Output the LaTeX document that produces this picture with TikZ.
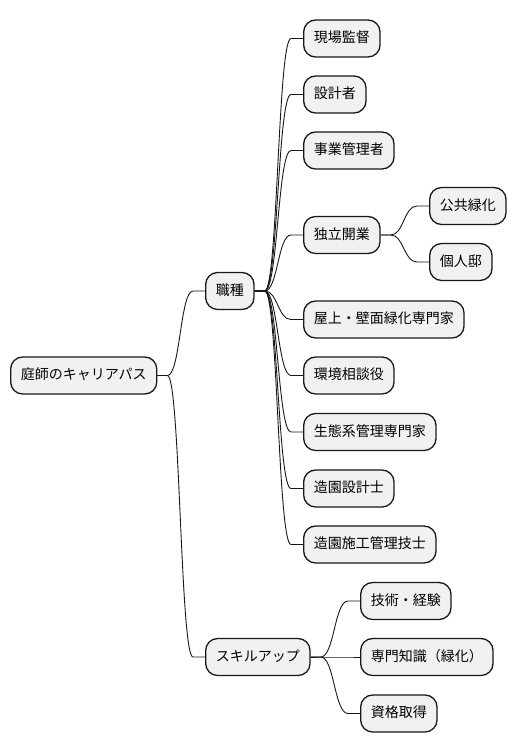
\documentclass[tikz,border=0pt]{standalone}
\usepackage{fontspec}
\setmainfont{Noto Sans CJK JP}
\usetikzlibrary{calc}
\definecolor{boxfill}{HTML}{F1F1F1}
\definecolor{boxline}{HTML}{181818}
\tikzset{
  mmbox/.style={draw=boxline, fill=boxfill, line width=1.3pt, rounded corners=12pt,
    anchor=west, minimum height=37pt, inner xsep=10.2pt, inner ysep=0pt,
    font=\fontsize{14pt}{16pt}\selectfont, text height=11pt, text depth=2.5pt},
  mmlink/.style={draw=boxline, line width=0.9pt}
}
\newcommand\mmlink[2]{%
  \draw[mmlink] (#1.east) -- ++(10,0) coordinate (s)
    let \p1=(s), \p2=($(#2.west)+(-12,0)$), \n1={(\x2-\x1)/2} in
    .. controls +(\n1,0) and +(-\n1,0) .. (\p2) -- (#2.west);}
\begin{document}
\begin{tikzpicture}[x=1pt,y=-1pt]
\useasboundingbox (0,0) rectangle (516,752);
\node[mmbox] (root) at (10,375.5) {庭師のキャリアパス};
\node[mmbox] (shokushu) at (205,291) {職種};
\node[mmbox] (skill) at (205,657) {スキルアップ};
\node[mmbox] (genba) at (303,38.5) {現場監督};
\node[mmbox] (sekkei) at (303,94.5) {設計者};
\node[mmbox] (jigyo) at (303,150.5) {事業管理者};
\node[mmbox] (dokuritsu) at (303,235) {独立開業};
\node[mmbox] (kokyo) at (429,206) {公共緑化};
\node[mmbox] (kojin) at (429,262) {個人邸};
\node[mmbox] (okujo) at (303,319.5) {屋上・壁面緑化専門家};
\node[mmbox] (kankyo) at (303,375.5) {環境相談役};
\node[mmbox] (seitai) at (303,432) {生態系管理専門家};
\node[mmbox] (zoensekkei) at (303,488.5) {造園設計士};
\node[mmbox] (zoensesko) at (303,544.5) {造園施工管理技士};
\node[mmbox] (gijutsu) at (360,601) {技術・経験};
\node[mmbox] (senmon) at (360,657) {専門知識（緑化）};
\node[mmbox] (shikaku) at (360,713.5) {資格取得};
\mmlink{root}{shokushu}
\mmlink{root}{skill}
\mmlink{shokushu}{genba}
\mmlink{shokushu}{sekkei}
\mmlink{shokushu}{jigyo}
\mmlink{shokushu}{dokuritsu}
\mmlink{shokushu}{okujo}
\mmlink{shokushu}{kankyo}
\mmlink{shokushu}{seitai}
\mmlink{shokushu}{zoensekkei}
\mmlink{shokushu}{zoensesko}
\mmlink{dokuritsu}{kokyo}
\mmlink{dokuritsu}{kojin}
\mmlink{skill}{gijutsu}
\mmlink{skill}{senmon}
\mmlink{skill}{shikaku}
\end{tikzpicture}
\end{document}
